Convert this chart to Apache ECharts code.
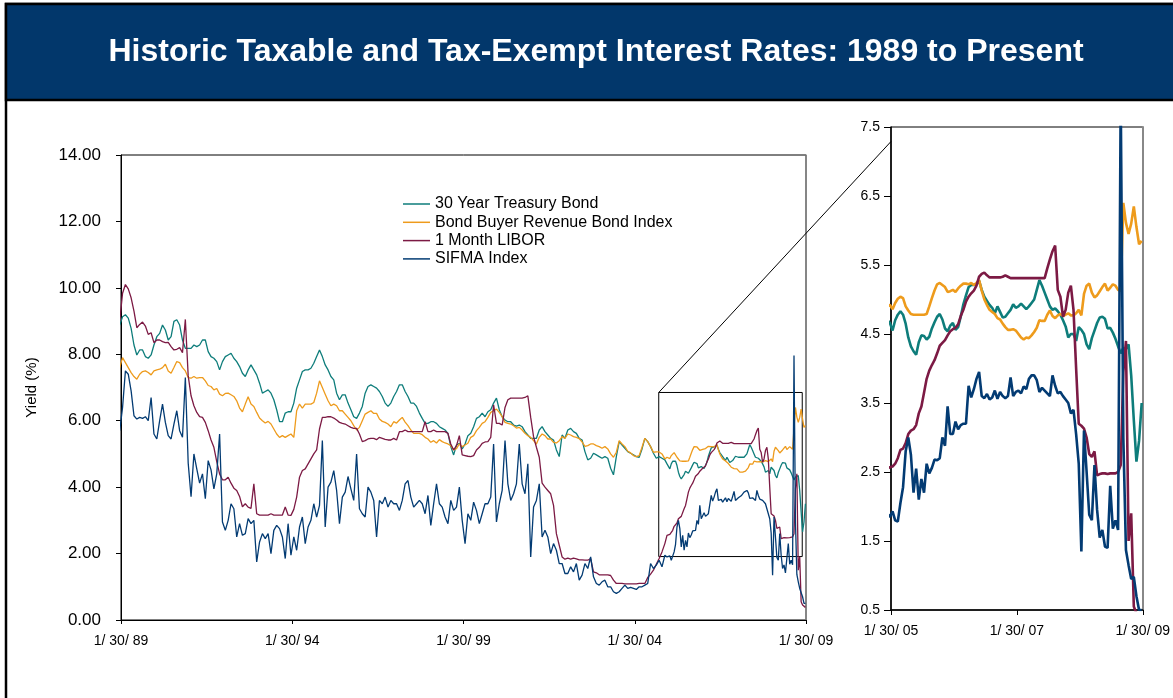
<!DOCTYPE html>
<html><head><meta charset="utf-8">
<script src="https://cdn.jsdelivr.net/npm/echarts@6/dist/echarts.min.js"></script>
<style>html,body{margin:0;padding:0;background:#fff;}#c{width:1173px;height:698px;}</style>
</head><body><div id="c"></div>
<script>
const TITLE = 'Historic Taxable and Tax-Exempt Interest Rates: 1989 to Present';
const SERIES_NAMES = ['30 Year Treasury Bond', 'Bond Buyer Revenue Bond Index', '1 Month LIBOR', 'SIFMA Index'];
const SERIES_COLORS = ['#0E7D7B', '#EE9B1C', '#7C1A44', '#033B73'];
const Y_AXIS_NAME = 'Yield (%)';

// monthly readings, Jan 1989 .. Dec 2004
const MONTHLY_START = 1989;
const treasuryMonthly = [
 8.88,9.13,9.19,9.09,8.78,8.28,7.98,8.13,8.13,7.93,7.88,7.98,
 8.28,8.53,8.63,8.88,8.73,8.43,8.53,8.99,9.04,8.88,8.43,8.18,
 8.18,8.18,8.28,8.23,8.28,8.43,8.43,8.08,7.93,7.88,7.78,7.53,
 7.78,7.93,7.98,8.03,7.88,7.78,7.63,7.43,7.33,7.53,7.68,7.53,
 7.38,7.13,6.83,6.88,6.93,6.83,6.63,6.33,5.97,5.97,6.23,6.27,
 6.27,6.53,6.98,7.23,7.48,7.53,7.53,7.58,7.73,7.93,8.13,7.93,
 7.68,7.53,7.33,7.23,6.83,6.63,6.78,6.78,6.53,6.33,6.12,6.07,
 6.23,6.43,6.83,7.03,7.08,7.03,6.98,6.88,6.73,6.53,6.43,6.53,
 6.73,6.88,7.08,7.08,6.88,6.73,6.53,6.53,6.43,6.23,6.07,5.92,
 5.92,5.97,5.97,5.92,5.82,5.77,5.72,5.62,5.22,4.97,5.27,5.32,
 5.15,5.30,5.55,5.62,5.82,6.07,6.12,6.23,6.12,6.27,6.33,6.53,
 6.68,6.33,6.12,6.02,5.97,5.97,5.87,5.84,5.87,5.82,5.67,5.57,
 5.47,5.47,5.47,5.72,5.82,5.67,5.57,5.47,5.42,5.12,4.92,5.57,
 5.47,5.72,5.77,5.67,5.62,5.47,5.42,5.07,4.82,4.87,5.02,4.97,
 4.92,4.87,4.92,4.87,4.57,4.37,4.92,5.37,5.27,5.17,5.07,5.02,
 4.97,4.92,4.90,5.15,5.47,5.37,5.22,5.02,4.87,4.92,4.87,4.82
];
const bondBuyerMonthly = [
 7.60,7.90,7.75,7.60,7.45,7.33,7.25,7.40,7.48,7.50,7.45,7.38,
 7.50,7.53,7.55,7.60,7.70,7.50,7.43,7.60,7.78,7.75,7.60,7.50,
 7.30,7.28,7.33,7.28,7.30,7.30,7.20,7.06,7.03,6.93,6.97,6.80,
 6.75,6.82,6.83,6.78,6.73,6.60,6.38,6.27,6.50,6.72,6.50,6.43,
 6.25,6.08,6.00,5.93,5.98,5.90,5.75,5.60,5.50,5.55,5.50,5.55,
 5.60,5.50,6.30,6.50,6.38,6.50,6.50,6.50,6.55,6.83,7.20,7.00,
 6.80,6.60,6.45,6.50,6.45,6.30,6.30,6.20,6.10,6.00,5.85,5.72,
 5.80,6.00,6.20,6.25,6.30,6.22,6.22,6.05,5.98,5.95,5.90,5.82,
 5.97,5.93,6.02,6.10,5.96,5.85,5.72,5.62,5.62,5.62,5.58,5.50,
 5.45,5.35,5.40,5.33,5.43,5.37,5.33,5.30,5.25,5.12,5.16,5.30,
 5.22,5.27,5.32,5.50,5.55,5.70,5.80,5.92,5.97,6.10,6.25,6.30,
 6.35,6.25,6.12,5.95,5.92,5.90,5.85,5.78,5.80,5.72,5.62,5.55,
 5.50,5.40,5.30,5.50,5.60,5.55,5.45,5.45,5.35,5.33,5.40,5.52,
 5.47,5.60,5.57,5.52,5.50,5.46,5.36,5.23,5.25,5.30,5.30,5.25,
 5.22,5.17,5.22,5.15,5.00,4.90,5.05,5.40,5.30,5.22,5.08,5.03,
 4.95,4.92,4.95,5.20,5.47,5.37,5.22,5.05,5.06,5.06,5.00,4.85
];
const liborMonthly = [
 9.00,9.84,10.10,9.97,9.70,9.30,8.80,8.90,8.97,8.85,8.60,8.65,
 8.35,8.43,8.43,8.38,8.35,8.36,8.23,8.13,8.15,8.20,8.05,9.05,
 7.35,6.75,6.45,6.25,6.12,6.10,5.95,5.70,5.42,5.20,4.77,4.40,
 4.22,4.22,4.30,4.12,3.97,3.90,3.72,3.41,3.50,3.40,3.36,4.10,
 3.20,3.16,3.16,3.16,3.16,3.20,3.16,3.16,3.16,3.16,3.40,3.16,
 3.15,3.33,3.70,4.30,4.50,4.55,4.70,4.85,5.00,5.12,5.75,6.10,
 6.10,6.12,6.12,6.08,6.02,5.95,5.92,5.90,5.85,5.80,5.77,5.77,
 5.60,5.37,5.40,5.45,5.47,5.47,5.43,5.50,5.47,5.44,5.42,5.42,
 5.47,5.42,5.67,5.67,5.72,5.67,5.67,5.67,5.67,5.67,5.67,5.97,
 5.67,5.67,5.72,5.67,5.67,5.67,5.67,5.62,5.30,5.12,5.25,5.55,
 4.97,4.95,4.93,4.92,4.95,5.12,5.20,5.32,5.36,5.37,5.50,6.48,
 5.92,5.92,5.87,6.40,6.63,6.68,6.68,6.68,6.68,6.68,6.70,6.75,
 6.10,5.52,5.20,4.90,4.12,4.00,3.90,3.80,3.45,2.60,2.25,1.90,
 1.83,1.86,1.83,1.86,1.84,1.81,1.81,1.80,1.80,1.85,1.45,1.42,
 1.36,1.36,1.36,1.36,1.34,1.20,1.10,1.10,1.10,1.09,1.09,1.09,
 1.09,1.09,1.10,1.10,1.10,1.28,1.38,1.50,1.68,1.85,2.05,2.30
];
const sifmaMonthly = [
 5.70,6.40,7.50,7.40,6.90,6.15,6.05,6.10,6.07,6.12,6.00,6.70,
 5.60,5.45,6.00,6.50,5.95,5.55,5.45,5.90,6.30,5.70,5.50,7.30,
 4.72,3.71,5.00,4.55,4.12,4.40,3.65,4.80,4.52,3.95,4.40,5.60,
 2.95,2.70,3.00,3.50,3.35,2.50,2.90,2.55,2.60,3.05,2.90,3.00,
 1.75,2.35,2.60,2.45,2.60,2.00,2.70,2.85,2.75,2.50,1.85,2.90,
 1.95,2.50,2.10,2.80,3.10,2.30,2.80,3.00,3.50,3.10,3.45,5.40,
 2.80,4.00,4.15,4.50,3.90,2.90,3.70,3.85,4.32,3.95,3.60,5.00,
 3.35,3.20,3.10,4.00,3.85,3.60,2.50,3.60,3.50,3.70,3.40,3.60,
 3.50,3.50,3.30,3.60,4.10,4.20,3.70,3.40,3.50,3.60,3.50,3.20,
 3.75,2.85,3.50,4.10,3.50,3.40,3.10,2.90,3.60,3.30,3.40,4.00,
 3.00,2.30,3.20,3.00,3.55,3.30,2.90,3.20,3.50,3.50,3.70,5.30,
 2.95,3.50,3.90,5.40,4.10,3.60,3.80,4.10,5.30,4.10,3.80,4.70,
 1.90,3.40,3.60,4.10,2.50,2.70,2.50,2.00,2.30,2.10,1.70,1.70,
 1.40,1.40,1.60,1.45,1.70,1.20,1.35,1.70,1.55,1.90,1.30,1.10,
 1.05,1.15,1.20,1.00,1.00,0.85,0.80,0.85,0.95,1.05,0.95,0.98,
 0.95,0.92,1.00,1.00,1.05,1.10,1.70,1.55,1.65,1.80,1.60,1.95
];

// semi-monthly readings, Jan 2005 .. Jan 2009
const SEMI_START = 2005;
const treasurySemi = [
 4.70,4.66,4.55,4.70,4.78,4.83,4.78,4.65,4.45,4.32,
 4.25,4.20,4.38,4.48,4.47,4.42,4.46,4.58,4.67,4.75,
 4.79,4.71,4.58,4.54,4.62,4.66,4.56,4.60,4.75,4.93,
 5.06,5.18,5.21,5.21,5.22,5.27,5.14,5.04,4.98,4.92,
 4.88,4.80,4.90,4.82,4.74,4.75,4.80,4.85,4.93,4.88,
 4.90,4.94,4.90,4.86,4.90,4.95,5.00,5.14,5.28,5.20,
 5.10,5.00,4.90,4.85,4.87,4.83,4.78,4.70,4.61,4.45,
 4.50,4.50,4.40,4.60,4.56,4.50,4.35,4.28,4.44,4.55,
 4.66,4.74,4.75,4.72,4.58,4.59,4.52,4.43,4.32,4.22,
 4.30,4.28,4.35,3.90,3.25,2.65,2.95,3.50
];
const bondBuyerSemi = [
 4.90,4.92,4.86,4.95,5.01,5.04,5.02,4.90,4.84,4.79,
 4.78,4.78,4.78,4.78,4.78,4.79,4.90,5.02,5.13,5.22,
 5.24,5.21,5.18,5.11,5.12,5.14,5.11,5.16,5.20,5.23,
 5.23,5.22,5.24,5.21,5.24,5.28,5.13,5.00,4.92,4.85,
 4.82,4.79,4.73,4.71,4.65,4.60,4.56,4.56,4.57,4.55,
 4.50,4.45,4.42,4.45,4.44,4.48,4.53,4.59,4.70,4.69,
 4.69,4.78,4.84,4.76,4.73,4.77,4.79,4.76,4.78,4.80,
 4.77,4.77,4.80,4.85,4.77,5.08,5.20,5.23,5.10,5.03,
 5.06,5.12,5.18,5.23,5.13,5.17,5.22,5.20,5.14,5.12,
 6.40,6.11,5.95,6.10,6.35,6.05,5.80,5.85
];
const liborSemi = [
 2.55,2.57,2.58,2.62,2.70,2.82,2.84,2.92,3.05,3.10,
 3.12,3.18,3.35,3.45,3.65,3.85,3.97,4.05,4.12,4.22,
 4.33,4.37,4.41,4.48,4.54,4.57,4.59,4.64,4.76,4.85,
 4.97,5.04,5.09,5.13,5.20,5.33,5.37,5.39,5.35,5.32,
 5.32,5.32,5.32,5.32,5.33,5.35,5.33,5.31,5.31,5.31,
 5.31,5.31,5.31,5.31,5.31,5.31,5.31,5.31,5.31,5.31,
 5.31,5.45,5.58,5.70,5.78,5.14,5.04,4.75,4.85,5.10,
 5.20,4.85,4.00,3.20,3.17,3.13,3.00,2.76,2.72,2.80,
 2.45,2.47,2.48,2.48,2.47,2.48,2.48,2.48,2.50,2.60,
 3.95,4.40,1.50,1.90,0.55,0.45,0.40,0.38
];
const sifmaSemi = [
 1.90,1.85,1.93,1.80,1.78,2.05,2.28,2.80,3.00,2.75,
 2.20,2.55,2.10,2.40,2.20,2.62,2.48,2.56,2.68,2.67,
 2.70,3.00,2.88,3.45,3.05,3.05,3.23,3.12,3.18,3.20,
 3.20,3.75,3.58,3.70,3.85,3.95,3.60,3.57,3.63,3.55,
 3.58,3.68,3.56,3.66,3.60,3.57,3.60,3.87,3.60,3.66,
 3.68,3.64,3.74,3.70,3.85,3.90,3.90,3.83,3.66,3.72,
 3.68,3.64,3.60,3.90,3.75,3.64,3.66,3.60,3.55,3.50,
 3.35,3.40,3.05,2.62,1.35,3.10,2.50,1.88,1.80,2.60,
 1.95,1.55,1.66,1.42,1.40,2.30,1.68,1.80,1.66,7.96,
 3.00,1.37,1.15,0.95,0.98,0.70,0.50,0.50
];

// axes: dates as fractional years; 1/30 of a year = +0.0795
const MAIN_X_TICKS = [1989.0795, 1994.0795, 1999.0795, 2004.0795, 2009.0795];
const MAIN_X_LABELS = ['1/ 30/ 89', '1/ 30/ 94', '1/ 30/ 99', '1/ 30/ 04', '1/ 30/ 09'];
const INSET_X_TICKS = [2005.0795, 2007.0795, 2009.0795];
const INSET_X_LABELS = ['1/ 30/ 05', '1/ 30/ 07', '1/ 30/ 09'];
const MAIN_Y = { min: 0, max: 14, interval: 2 };
const INSET_Y_TICKS = [0.5, 1.5, 2.5, 3.5, 4.5, 5.5, 6.5, 7.5];
const ZOOM_BOX = { x0: 2004.78, x1: 2008.97, y0: 1.91, y1: 6.85 };
const INSET_ANCHOR = [2005.0795, 7.29];

const FONT = '"Liberation Sans", Arial, Helvetica, sans-serif';

function build(monthly, semi) {
  const out = [];
  monthly.forEach((v, i) => out.push([MONTHLY_START + (i + 0.5) / 12, v]));
  semi.forEach((v, k) => out.push([SEMI_START + (k + 0.5) / 24, v]));
  return out;
}
const allData = [
  build(treasuryMonthly, treasurySemi),
  build(bondBuyerMonthly, bondBuyerSemi),
  build(liborMonthly, liborSemi),
  build(sifmaMonthly, sifmaSemi)
];
function labelFor(ticks, labels) {
  return v => { const i = ticks.findIndex(t => Math.abs(t - v) < 0.01); return i >= 0 ? labels[i] : ''; };
}

const chart = echarts.init(document.getElementById('c'), null, { renderer: 'canvas' });

const series = [];
allData.forEach((d, i) => {
  series.push({
    name: SERIES_NAMES[i], type: 'line', xAxisIndex: 0, yAxisIndex: 0, data: d,
    showSymbol: false, symbol: 'none', silent: true, clip: true,
    lineStyle: { width: 1.3, color: SERIES_COLORS[i] }, itemStyle: { color: SERIES_COLORS[i] },
    markArea: i === 3 ? {
      silent: true,
      itemStyle: { color: 'rgba(0,0,0,0)', borderColor: '#000', borderWidth: 1 },
      data: [[{ coord: [ZOOM_BOX.x0, ZOOM_BOX.y1] }, { coord: [ZOOM_BOX.x1, ZOOM_BOX.y0] }]]
    } : undefined
  });
});
allData.forEach((d, i) => {
  series.push({
    name: SERIES_NAMES[i], type: 'line', xAxisIndex: 1, yAxisIndex: 1, data: d,
    showSymbol: false, symbol: 'none', silent: true, clip: true,
    lineStyle: { width: 2.6, color: SERIES_COLORS[i] }, itemStyle: { color: SERIES_COLORS[i] }
  });
});

const baseGraphic = [
  { id: 'frame', type: 'rect', z: -10, shape: { x: 6, y: 4, width: 1190, height: 720 },
    style: { fill: '#fff', stroke: '#000', lineWidth: 2.5 } },
  { id: 'header', type: 'rect', z: -9, shape: { x: 6, y: 4, width: 1190, height: 96 },
    style: { fill: '#02376B', stroke: '#000', lineWidth: 2.5 } },
  { id: 'title', type: 'text', z: -8, x: 596, y: 52,
    style: { text: TITLE, fill: '#fff', font: 'bold 32px ' + FONT, textAlign: 'center', textVerticalAlign: 'middle' } }
];

const axisText = { color: '#000', fontFamily: FONT };
chart.setOption({
  animation: false,
  backgroundColor: '#fff',
  graphic: baseGraphic,
  legend: {
    data: SERIES_NAMES, orient: 'vertical', left: 403, top: 196, padding: 0,
    icon: 'rect', itemWidth: 27, itemHeight: 1.5, itemGap: 2.3, selectedMode: false,
    textStyle: { fontSize: 16, color: '#000', fontFamily: FONT, lineHeight: 16 }
  },
  grid: [
    { left: 121, top: 155, width: 685, height: 465, show: true, borderColor: '#000', borderWidth: 1, backgroundColor: 'rgba(0,0,0,0)' },
    { left: 891, top: 127, width: 258, height: 483, show: true, borderColor: '#000', borderWidth: 1, backgroundColor: 'rgba(0,0,0,0)' }
  ],
  xAxis: [
    { type: 'value', gridIndex: 0, min: MAIN_X_TICKS[0], max: MAIN_X_TICKS[MAIN_X_TICKS.length - 1],
      axisLine: { show: true, lineStyle: { color: '#000', width: 1 } },
      axisTick: { show: true, customValues: MAIN_X_TICKS, length: 4, lineStyle: { color: '#000' } },
      axisLabel: Object.assign({ customValues: MAIN_X_TICKS, formatter: labelFor(MAIN_X_TICKS, MAIN_X_LABELS), fontSize: 14, margin: 14 }, axisText),
      splitLine: { show: false } },
    { type: 'value', gridIndex: 1, min: INSET_X_TICKS[0], max: INSET_X_TICKS[INSET_X_TICKS.length - 1],
      axisLine: { show: true, lineStyle: { color: '#000', width: 1.5 } },
      axisTick: { show: true, customValues: INSET_X_TICKS, length: 5, lineStyle: { color: '#000' } },
      axisLabel: Object.assign({ customValues: INSET_X_TICKS, formatter: labelFor(INSET_X_TICKS, INSET_X_LABELS), fontSize: 14, margin: 14 }, axisText),
      splitLine: { show: false } }
  ],
  yAxis: [
    { type: 'value', gridIndex: 0, min: MAIN_Y.min, max: MAIN_Y.max, interval: MAIN_Y.interval,
      name: Y_AXIS_NAME, nameLocation: 'middle', nameGap: 82, nameRotate: 90,
      nameTextStyle: { fontSize: 15, color: '#000', fontFamily: FONT },
      axisLine: { show: true, lineStyle: { color: '#000', width: 1 } },
      axisTick: { show: true, length: 5, lineStyle: { color: '#000' } },
      axisLabel: Object.assign({ formatter: v => v.toFixed(2), fontSize: 17, margin: 20 }, axisText),
      splitLine: { show: false } },
    { type: 'value', gridIndex: 1, min: INSET_Y_TICKS[0], max: INSET_Y_TICKS[INSET_Y_TICKS.length - 1],
      axisLine: { show: true, lineStyle: { color: '#000', width: 1.5 } },
      axisTick: { show: true, customValues: INSET_Y_TICKS, length: 7, lineStyle: { color: '#000' } },
      axisLabel: Object.assign({ customValues: INSET_Y_TICKS, formatter: v => v.toFixed(1), fontSize: 14, margin: 11 }, axisText),
      splitLine: { show: false } },
    { type: 'value', gridIndex: 0, position: 'right', min: MAIN_Y.min, max: MAIN_Y.max,
      axisLine: { show: true, lineStyle: { color: '#888', width: 1.5 } },
      axisTick: { show: false }, axisLabel: { show: false }, splitLine: { show: false } },
    { type: 'value', gridIndex: 1, position: 'right', min: INSET_Y_TICKS[0], max: INSET_Y_TICKS[INSET_Y_TICKS.length - 1],
      axisLine: { show: true, lineStyle: { color: '#888', width: 2 } },
      axisTick: { show: false }, axisLabel: { show: false }, splitLine: { show: false } }
  ],
  series: series
});

const p1 = chart.convertToPixel({ xAxisIndex: 0, yAxisIndex: 0 }, [ZOOM_BOX.x0, ZOOM_BOX.y1]);
const p2 = chart.convertToPixel({ xAxisIndex: 1, yAxisIndex: 1 }, INSET_ANCHOR);
chart.setOption({
  graphic: baseGraphic.concat([{ id: 'connector', type: 'line', z: 100,
    shape: { x1: p1[0], y1: p1[1], x2: p2[0], y2: p2[1] }, style: { stroke: '#000', lineWidth: 1 } }])
});
</script></body></html>
